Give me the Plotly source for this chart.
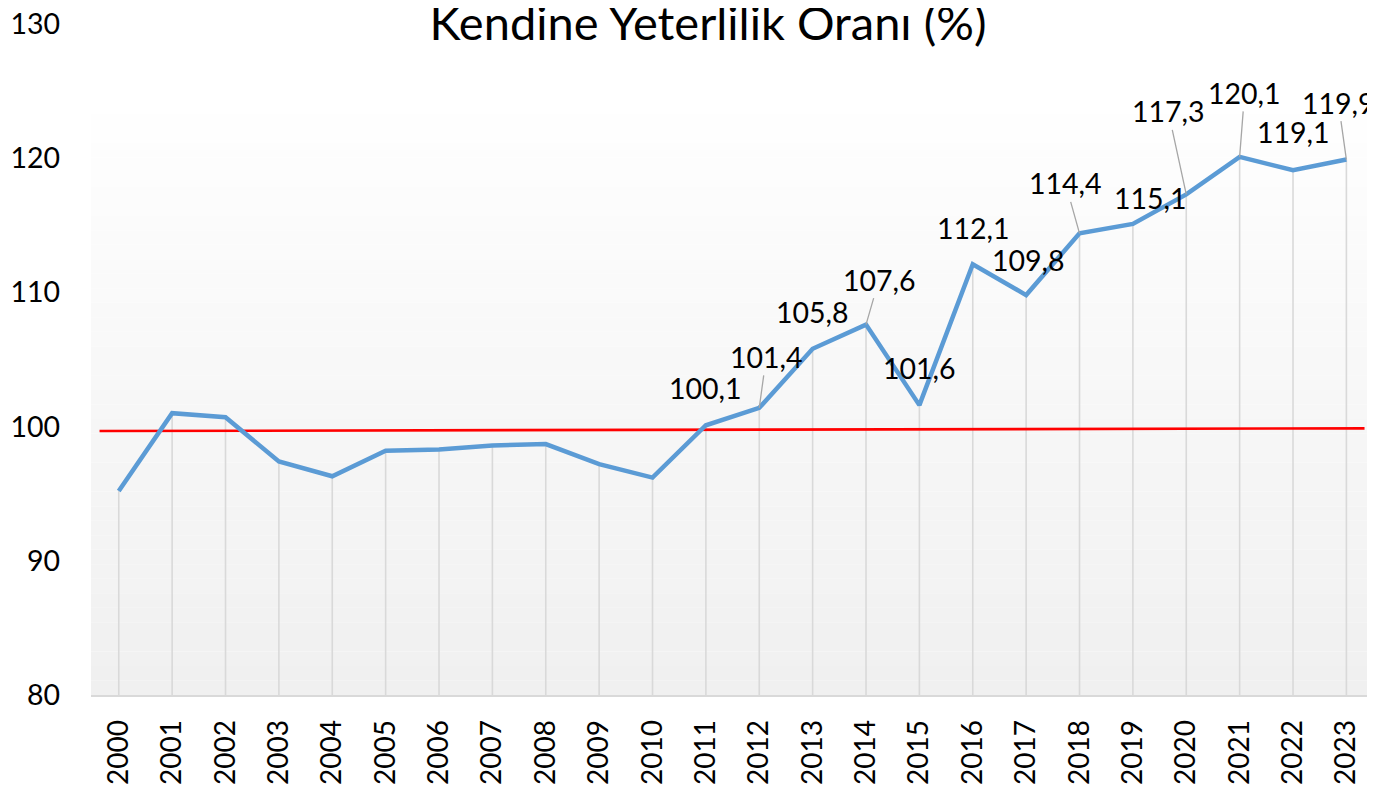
import plotly.graph_objects as go

# ---- data ----
years = [str(y) for y in range(2000, 2024)]
ratio = [95.2, 101.0, 100.7, 97.4, 96.3, 98.2, 98.3, 98.6, 98.7, 97.2, 96.2,
         100.1, 101.4, 105.8, 107.6, 101.6, 112.1, 109.8, 114.4, 115.1, 117.3,
         120.1, 119.1, 119.9]
label_years = ["2011", "2012", "2013", "2014", "2015", "2016", "2017", "2018",
               "2019", "2020", "2021", "2022", "2023"]
ref_line_y = [99.67, 99.87]
y_ticks = [80, 90, 100, 110, 120, 130]
title_text = "Kendine Yeterlilik Oranı (%)"

# ---- label offsets (pixels, style only) ----
label_offsets = {
    "2011": (0, -37, False), "2012": (7, -51, True), "2013": (0, -37, False),
    "2014": (13, -45, True), "2015": (0, -37, False), "2016": (1, -36, False),
    "2017": (2, -35, False), "2018": (-14, -50, True), "2019": (18, -26, False),
    "2020": (-18, -83, True), "2021": (5, -64, True), "2022": (0, -38, False),
    "2023": (-8, -57, True),
}

FONT = "Lato, 'Open Sans', sans-serif"
idx = list(range(len(years)))
ymin, ymax = y_ticks[0], y_ticks[-1]

# page body has an 8px default margin; figure laid out to compensate
W, H = 1367, 781

fig = go.Figure()

# drop lines from each point to the axis
fig.add_trace(go.Scatter(
    x=idx, y=ratio, mode="markers", marker=dict(size=0.1, color="rgba(0,0,0,0)"),
    error_y=dict(type="data", symmetric=False, array=[0] * len(ratio),
                 arrayminus=[v - ymin for v in ratio], color="#d9d9d9",
                 thickness=1.6, width=0),
    hoverinfo="skip", showlegend=False))

# reference line
fig.add_trace(go.Scatter(
    x=[-0.36, 23.34], y=ref_line_y, mode="lines",
    line=dict(color="#ff0000", width=2.6), hoverinfo="skip", showlegend=False))

# main series
fig.add_trace(go.Scatter(
    x=idx, y=ratio, mode="lines", line=dict(color="#5b9bd5", width=4.5),
    showlegend=False))

# data labels
for yr in label_years:
    i = years.index(yr)
    v = ratio[i]
    ax, ay, leader = label_offsets[yr]
    fig.add_annotation(
        x=i, y=v, xref="x", yref="y", text=f"{v:.1f}".replace(".", ","),
        showarrow=True, ax=ax, ay=ay, axref="pixel", ayref="pixel",
        arrowhead=0, arrowwidth=1.3,
        arrowcolor="#a6a6a6" if leader else "rgba(0,0,0,0)",
        standoff=0, startstandoff=0,
        font=dict(family=FONT, size=28.5, color="#000000"))

# gradient background of plot area (stacked bands)
top_val = 123.3
n = 40
c0, c1 = 0xfe, 0xf0
for k in range(n):
    y0 = ymin + (top_val - ymin) * k / n
    y1 = ymin + (top_val - ymin) * (k + 1) / n
    t = k / (n - 1)
    c = round(c1 + (c0 - c1) * t)
    col = f"rgb({c},{c},{c})"
    fig.add_shape(type="rect", xref="paper", yref="y", x0=0, x1=1, y0=y0, y1=y1,
                  fillcolor=col, line=dict(width=0), layer="below")

fig.update_layout(
    width=W, height=H,
    margin=dict(l=83, r=3, t=16, b=94, autoexpand=False),
    paper_bgcolor="white", plot_bgcolor="white",
    font=dict(family=FONT, size=28, color="#000000"),
    title=dict(text=title_text, x=700 / W, xanchor="center",
               y=1 - 16 / H, yanchor="middle", yref="container",
               font=dict(family=FONT, size=47, color="#000000")),
    showlegend=False,
    xaxis=dict(range=[-0.52, 23.48], tickmode="array", tickvals=idx,
               ticktext=years, tickangle=-90, showgrid=False, zeroline=False,
               showline=True, linecolor="#d9d9d9", linewidth=1.6,
               ticks="", ticklabelstandoff=12, automargin=False,
               ticklabeloverflow="allow",
               tickfont=dict(family=FONT, size=28, color="#000000")),
    yaxis=dict(range=[ymin, ymax], tickmode="array", tickvals=y_ticks,
               showgrid=False, zeroline=False, showline=False, ticks="",
               ticklabelstandoff=30, automargin=False,
               ticklabeloverflow="allow",
               tickfont=dict(family=FONT, size=28.5, color="#000000")),
)

fig.write_html("out.html")
